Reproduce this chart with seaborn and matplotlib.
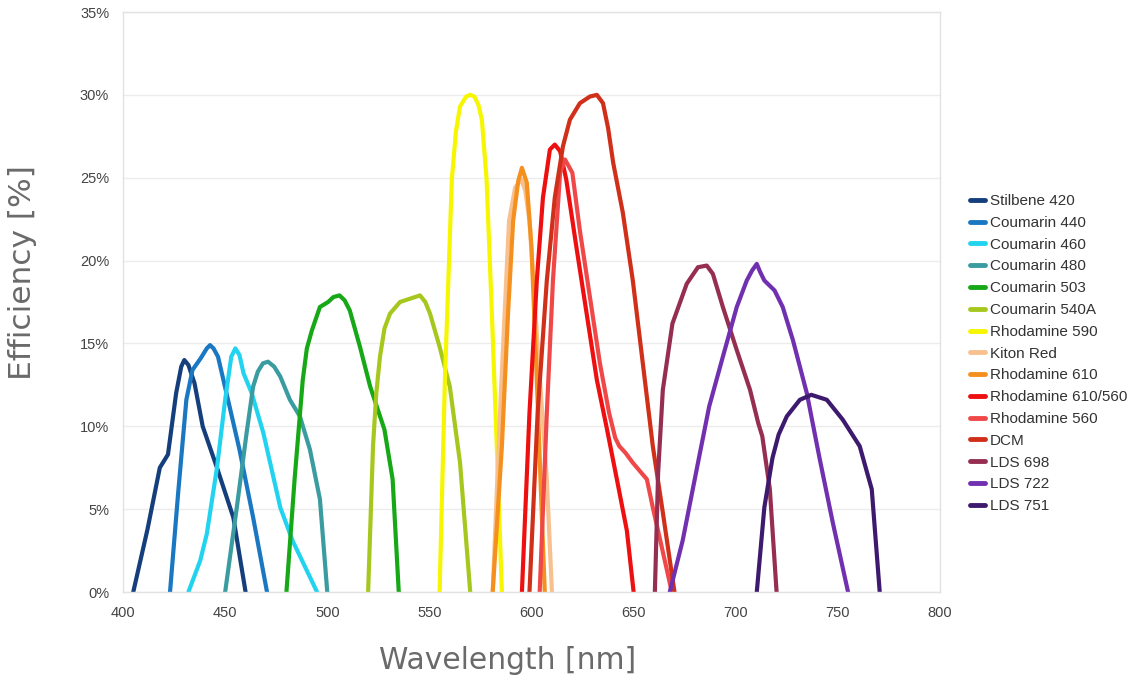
import pandas as pd
import numpy as np
import seaborn as sns
import matplotlib.pyplot as plt
from matplotlib.ticker import PercentFormatter

# dye names in legend order
dyes = ["Stilbene 420", "Coumarin 440", "Coumarin 460", "Coumarin 480",
        "Coumarin 503", "Coumarin 540A", "Rhodamine 590", "Kiton Red",
        "Rhodamine 610", "Rhodamine 610/560", "Rhodamine 560", "DCM",
        "LDS 698", "LDS 722", "LDS 751"]

colors = ["#143f7c", "#1a78c2", "#22d3f0", "#3a9ca0", "#17a817", "#a6c81e",
          "#f6f600", "#f7c08e", "#f5901e", "#ee1010", "#f04848", "#d0301a",
          "#962e52", "#7030b0", "#3e1a6e"]

# tuning curves: wavelength [nm], efficiency [%]
stilbene_420_wl = [405, 412, 418, 422, 426, 428.5, 430, 432, 435, 439, 446, 454, 460]
stilbene_420_eff = [0, 3.8, 7.5, 8.3, 12.0, 13.6, 14.0, 13.7, 12.6, 10.0, 7.5, 4.5, 0]

coumarin_440_wl = [423, 427, 431, 434, 438, 441, 442.6, 444.3, 446.5, 451.4, 457, 463.7, 470.5]
coumarin_440_eff = [0, 6.0, 11.6, 13.4, 14.1, 14.7, 14.9, 14.7, 14.2, 11.6, 8.6, 4.5, 0]

coumarin_460_wl = [432, 437.8, 441, 446, 450, 453, 455, 457, 459, 463, 468.7, 477, 483, 495]
coumarin_460_eff = [0, 1.9, 3.5, 7.5, 11.6, 14.2, 14.7, 14.3, 13.2, 12.0, 9.6, 5.1, 3.1, 0]

coumarin_480_wl = [450, 455.7, 460.5, 463.7, 466, 468.5, 471, 474, 477, 481.7, 486.6,
                   491.5, 496.4, 500]
coumarin_480_eff = [0, 5.1, 9.6, 12.4, 13.3, 13.8, 13.9, 13.6, 13.0, 11.6, 10.6,
                    8.6, 5.6, 0]

coumarin_503_wl = [480, 484, 488, 490, 492.5, 496.4, 500.4, 503, 506, 508.5, 511, 516,
                   521, 528, 532, 535]
coumarin_503_eff = [0, 6.8, 12.8, 14.7, 15.8, 17.2, 17.5, 17.8, 17.9, 17.6, 17.0, 14.8,
                    12.4, 9.8, 6.8, 0]

coumarin_540a_wl = [520, 522.4, 524, 525.8, 528, 530.7, 535.6, 540.5, 545.4, 548, 550.3,
                    555, 560, 565, 570]
coumarin_540a_eff = [0, 8.8, 12.0, 14.2, 15.9, 16.8, 17.5, 17.7, 17.9, 17.5, 16.8,
                     14.8, 12.4, 7.8, 0]

rhodamine_590_wl = [555, 557.6, 561, 563, 565, 568, 570, 572, 574, 575.7, 578, 580.6,
                    583, 585.5]
rhodamine_590_eff = [0, 12.8, 24.9, 27.8, 29.3, 29.9, 30.0, 29.9, 29.4, 28.5, 24.9, 16.8,
                     8.8, 0]

kiton_red_wl = [581, 585, 589, 592, 595, 597, 599, 603, 607.5, 610]
kiton_red_eff = [0, 12.0, 22.4, 24.4, 24.9, 24.2, 22.4, 14.8, 6.8, 0]

rhodamine_610_wl = [581, 585.5, 588.5, 591, 593.5, 595.3, 597.7, 600, 602.6, 605, 606.5]
rhodamine_610_eff = [0, 8.8, 16.8, 22.4, 24.8, 25.6, 24.7, 20.8, 12.8, 4.8, 0]

rhodamine_610_560_wl = [595.3, 599, 602.6, 605.6, 609, 611.4, 614, 617, 622, 627, 632,
                        637, 641.8, 646.7, 650]
rhodamine_610_560_eff = [0, 10.8, 18.8, 23.8, 26.7, 27.0, 26.6, 24.9, 20.8, 16.8, 12.8,
                         9.8, 6.8, 3.7, 0]

rhodamine_560_wl = [604, 607.5, 610.5, 614, 616.4, 620, 623.7, 628.6, 633.5, 638, 641,
                    643, 646, 649.6, 656.5, 659.4, 663.8, 668.7]
rhodamine_560_eff = [0, 10.8, 18.8, 25.3, 26.1, 25.3, 21.8, 17.8, 13.8, 10.8, 9.3,
                     8.8, 8.4, 7.8, 6.8, 5.1, 2.7, 0]

dcm_wl = [599, 603, 607.5, 611.4, 615.4, 618.8, 623.7, 628.6, 632, 635, 637.5, 640,
          644.7, 649.6, 654.5, 659.4, 664.3, 670]
dcm_eff = [0, 10.8, 18.8, 23.8, 26.9, 28.5, 29.5, 29.9, 30.0, 29.5, 28.0, 25.9,
           22.9, 18.8, 13.8, 8.8, 4.8, 0]

lds_698_wl = [660.4, 662, 664.3, 669, 676, 681.5, 685.8, 688.8, 693.7, 700.5, 707, 711,
              713, 716.7, 720]
lds_698_eff = [0, 7.2, 12.2, 16.2, 18.6, 19.6, 19.7, 19.2, 17.2, 14.6, 12.2, 10.2,
               9.4, 6.2, 0]

lds_722_wl = [667.7, 674, 682, 687, 693.7, 700.5, 705.4, 708, 710.3, 712, 714, 719, 723,
              728, 734.8, 741, 747.5, 755]
lds_722_eff = [0, 3.1, 8.1, 11.2, 14.2, 17.2, 18.8, 19.4, 19.8, 19.3, 18.8, 18.2, 17.2,
               15.2, 12.0, 8.1, 4.2, 0]

lds_751_wl = [710.3, 714, 718, 721, 725, 731.4, 737, 744.6, 752.4, 760.7, 766.6, 770.5]
lds_751_eff = [0, 5.1, 8.1, 9.5, 10.6, 11.6, 11.9, 11.6, 10.4, 8.8, 6.2, 0]

curves = [
    (stilbene_420_wl, stilbene_420_eff), (coumarin_440_wl, coumarin_440_eff),
    (coumarin_460_wl, coumarin_460_eff), (coumarin_480_wl, coumarin_480_eff),
    (coumarin_503_wl, coumarin_503_eff), (coumarin_540a_wl, coumarin_540a_eff),
    (rhodamine_590_wl, rhodamine_590_eff), (kiton_red_wl, kiton_red_eff),
    (rhodamine_610_wl, rhodamine_610_eff),
    (rhodamine_610_560_wl, rhodamine_610_560_eff),
    (rhodamine_560_wl, rhodamine_560_eff), (dcm_wl, dcm_eff),
    (lds_698_wl, lds_698_eff), (lds_722_wl, lds_722_eff), (lds_751_wl, lds_751_eff),
]

frames = []
for name, (wl, eff) in zip(dyes, curves):
    frames.append(pd.DataFrame({"wavelength": wl, "efficiency": eff, "dye": name}))
df = pd.concat(frames, ignore_index=True)

sns.set_style("white")
plt.rcParams['font.family'] = ['Liberation Sans', 'DejaVu Sans']

fig = plt.figure(figsize=(11.34, 6.83), dpi=100)
ax = fig.add_axes([0.1085, 0.1332, 0.7204, 0.8492])

sns.lineplot(data=df, x="wavelength", y="efficiency", hue="dye", hue_order=dyes,
             palette=dict(zip(dyes, colors)), estimator=None, sort=False,
             linewidth=3, ax=ax)
for line in ax.get_lines():
    line.set_solid_joinstyle("round")
    line.set_solid_capstyle("round")

ax.set_xlim(400, 800)
ax.set_ylim(0, 35)
ax.set_xticks(range(400, 801, 50))
ax.set_yticks(range(0, 36, 5))
ax.yaxis.set_major_formatter(PercentFormatter(decimals=0))
ax.grid(axis="y", color="#ececec", linewidth=1)
ax.grid(axis="x", visible=False)
for sp in ax.spines.values():
    sp.set_color("#e2e2e2")
    sp.set_linewidth(1)
ax.tick_params(axis="both", length=4, width=1, color="#e2e2e2",
               labelsize=10.5, labelcolor="#444444", pad=6)

ax.set_xlabel("Wavelength [nm]", family="DejaVu Sans", fontsize=21.4,
              color="#6a6a6a")
ax.set_ylabel("Efficiency [%]", family="DejaVu Sans", fontsize=22.5,
              color="#6a6a6a")
ax.xaxis.set_label_coords(0.471, -0.093)
ax.yaxis.set_label_coords(-0.105, 0.55)

leg = ax.legend(loc="center left", bbox_to_anchor=(1.029, 0.411), frameon=False,
                fontsize=11, handlelength=1.0, handletextpad=0.3,
                labelspacing=0.51, borderaxespad=0)
for t in leg.get_texts():
    t.set_color("#333333")
for h in leg.legend_handles:
    h.set_linewidth(3.5)

fig.savefig("out.png", dpi=100)
